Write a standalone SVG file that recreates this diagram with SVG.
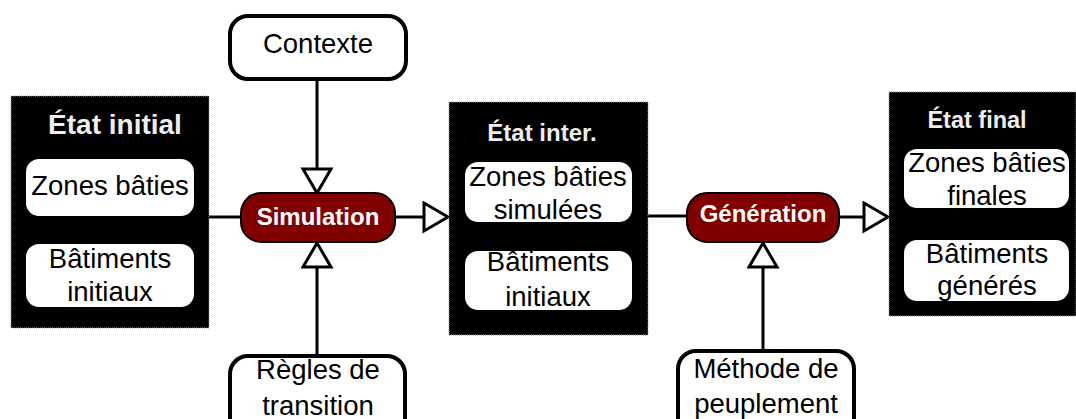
<svg xmlns="http://www.w3.org/2000/svg" width="1076" height="419" viewBox="0 0 1076 419">
<defs>
<marker id="tri" markerUnits="userSpaceOnUse" markerWidth="30" markerHeight="34" refX="26" refY="16" orient="auto" viewBox="0 0 30 34">
<path d="M2,2 L26,16 L2,30 Z" fill="#fff" stroke="#000" stroke-width="3"/>
</marker>
</defs>
<style>
.state{fill:#000;stroke:#9a9a9a;stroke-width:1;stroke-dasharray:1 1}
.inner{fill:#fff}
.ext{fill:#fff;stroke:#000;stroke-width:4}
.proc{fill:#800000;stroke:#000;stroke-width:2}
.t{font-family:"Liberation Sans",Arial,sans-serif;font-size:27.5px;fill:#000;text-anchor:middle}
.h{font-family:"Liberation Sans",Arial,sans-serif;font-weight:bold;fill:#eeeeee;text-anchor:middle}
.p{font-family:"Liberation Sans",Arial,sans-serif;font-weight:bold;font-size:24px;fill:#fff;text-anchor:middle}
.c{fill:none;stroke:#000;stroke-width:3}
</style>
<g id="connectors">
<line class="c" x1="209" y1="217" x2="241" y2="217"/>
<line class="c" x1="395" y1="217" x2="448" y2="217" marker-end="url(#tri)"/>
<line class="c" x1="317" y1="80" x2="317" y2="193" marker-end="url(#tri)"/>
<line class="c" x1="317" y1="356" x2="317" y2="243" marker-end="url(#tri)"/>
<line class="c" x1="648" y1="216" x2="687" y2="216"/>
<line class="c" x1="839" y1="217" x2="888" y2="217" marker-end="url(#tri)"/>
<line class="c" x1="763" y1="351" x2="763" y2="243" marker-end="url(#tri)"/>
</g>
<g id="etat-initial">
<rect class="state" x="11" y="96" width="198" height="232"/>
<text class="h" x="115" y="134" font-size="28px">État initial</text>
<rect class="inner" x="26" y="159" width="168" height="57" rx="13"/>
<text class="t" x="110" y="195">Zones bâties</text>
<rect class="inner" x="26" y="244" width="168" height="63" rx="13"/>
<text class="t" x="110" y="268">Bâtiments</text>
<text class="t" x="110" y="301">initiaux</text>
</g>
<g id="etat-inter">
<rect class="state" x="449" y="102" width="199" height="233"/>
<text class="h" x="542" y="141" font-size="24px">État inter.</text>
<rect class="inner" x="465" y="162" width="167" height="60" rx="13"/>
<text class="t" x="548" y="186">Zones bâties</text>
<text class="t" x="548" y="219">simulées</text>
<rect class="inner" x="465" y="251" width="167" height="59" rx="13"/>
<text class="t" x="548" y="271">Bâtiments</text>
<text class="t" x="548" y="306">initiaux</text>
</g>
<g id="etat-final">
<rect class="state" x="889" y="92" width="187" height="224"/>
<text class="h" x="977" y="128" font-size="23.5px">État final</text>
<rect class="inner" x="904" y="149" width="165" height="59" rx="13"/>
<text class="t" x="987" y="172">Zones bâties</text>
<text class="t" x="987" y="205">finales</text>
<rect class="inner" x="904" y="240" width="165" height="61" rx="13"/>
<text class="t" x="987" y="263">Bâtiments</text>
<text class="t" x="987" y="295">générés</text>
</g>
<g id="simulation">
<rect class="proc" x="241" y="193" width="154" height="49" rx="20"/>
<text class="p" x="318" y="225">Simulation</text>
</g>
<g id="generation">
<rect class="proc" x="687" y="193" width="152" height="49" rx="20"/>
<text class="p" x="763" y="222">Génération</text>
</g>
<g id="contexte">
<rect class="ext" x="230" y="16" width="176" height="63" rx="18"/>
<text class="t" x="318" y="53">Contexte</text>
</g>
<g id="regles">
<rect class="ext" x="230" y="356" width="175" height="80" rx="18"/>
<text class="t" x="318" y="379">Règles de</text>
<text class="t" x="318" y="415">transition</text>
</g>
<g id="methode">
<rect class="ext" x="678" y="351" width="176" height="85" rx="18"/>
<text class="t" x="766" y="378">Méthode de</text>
<text class="t" x="766" y="413">peuplement</text>
</g>
</svg>
